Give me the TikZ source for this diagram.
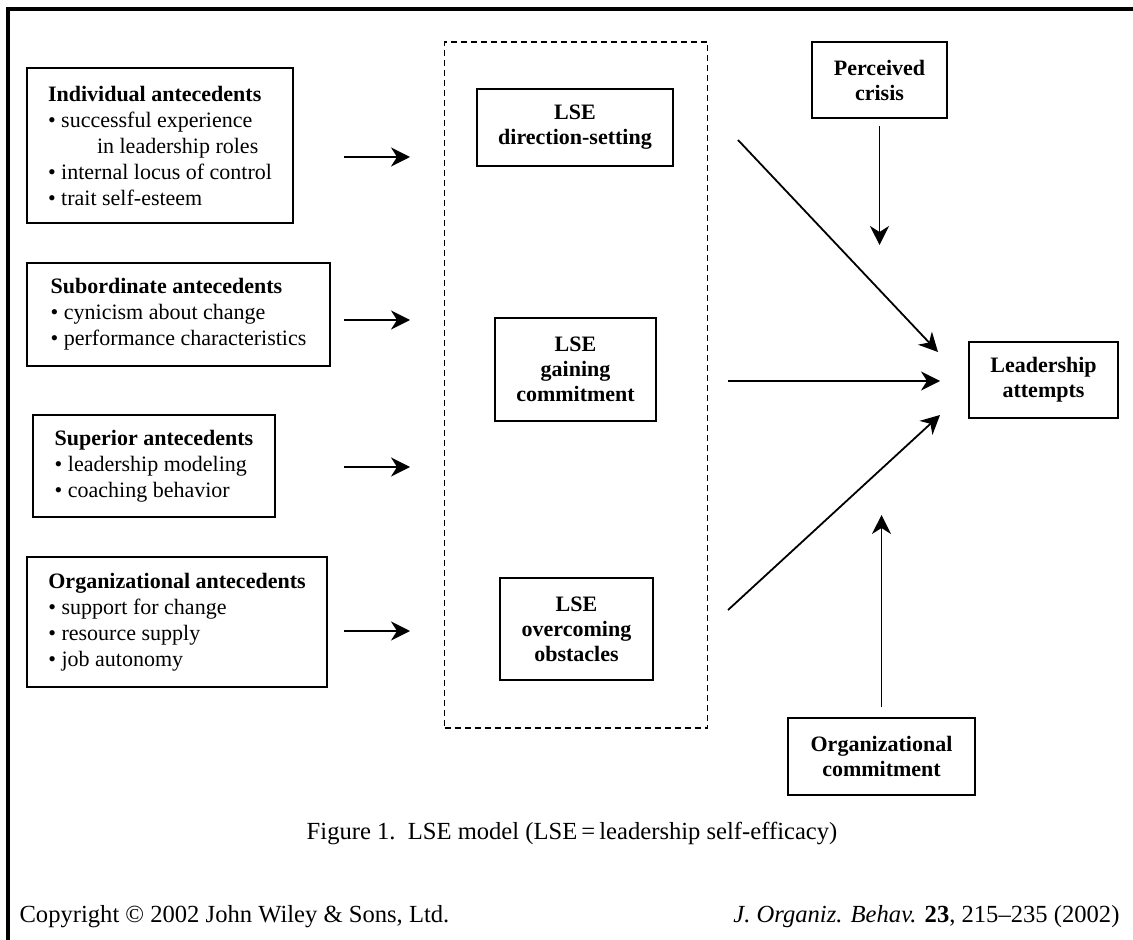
\documentclass[tikz,border=0pt]{standalone}
\usepackage{fontspec}
\setmainfont{Liberation Serif}
\usetikzlibrary{arrows.meta}

\begin{document}
\begin{tikzpicture}[x=0.5pt, y=-0.5pt, line width=0.9pt, >={Stealth[length=9.5pt,width=9.5pt,inset=3pt]},
  ante/.style={draw, shape=rectangle, align=left, inner sep=0pt, font=\fontsize{11}{13}\selectfont},
  lse/.style={draw, shape=rectangle, align=center, inner sep=0pt, font=\fontsize{11}{12.5}\selectfont\bfseries},
  foot/.style={font=\fontsize{12.3}{14}\selectfont}] %pixel coordinates, y grows downwards
\useasboundingbox (0,0) rectangle (1133,940);
\draw[line width=1.6pt] (8,940) -- (8,9) -- (1133,9);

\node[ante, minimum width=133pt, minimum height=77.5pt] (ind) at (160,145.5) {\textbf{Individual antecedents}\\ \textbullet\ successful experience\\ \hspace*{24.5pt}in leadership roles\\ \textbullet\ internal locus of control\\ \textbullet\ trait self-esteem};
\node[ante, minimum width=151.5pt, minimum height=51.5pt] (sub) at (178.5,314.5) {\textbf{Subordinate antecedents}\\ \textbullet\ cynicism about change\\ \textbullet\ performance characteristics};
\node[ante, minimum width=121pt, minimum height=51pt] (sup) at (154,466) {\textbf{Superior antecedents}\\ \textbullet\ leadership modeling\\ \textbullet\ coaching behavior};
\node[ante, minimum width=150pt, minimum height=65pt] (org) at (177,622) {\textbf{Organizational antecedents}\\ \textbullet\ support for change\\ \textbullet\ resource supply\\ \textbullet\ job autonomy};

\node[draw, dash pattern=on 3pt off 2pt, line width=0.7pt, inner sep=0pt, minimum width=131.5pt, minimum height=343pt] (lse) at (576,385) {};
\node[lse, minimum width=98pt, minimum height=38.5pt] (dir) at (575,127.5) {LSE\\direction-setting};
\node[lse, minimum width=80.5pt, minimum height=51.5pt] (gain) at (575.5,369.5) {LSE\\gaining\\commitment};
\node[lse, minimum width=76.5pt, minimum height=51pt] (over) at (576.5,629) {LSE\\overcoming\\obstacles};

\node[lse, minimum width=67.5pt, minimum height=38pt] (crisis) at (879.5,80) {Perceived\\crisis};
\node[lse, minimum width=74.5pt, minimum height=38pt] (att) at (1043.5,380) {Leadership\\attempts};
\node[lse, minimum width=93.5pt, minimum height=38.5pt] (ocom) at (881.5,756.5) {Organizational\\commitment};

\foreach \n/\y in {1/157, 2/320, 3/467, 4/631} {
  \coordinate (s\n) at (344,\y);
  \coordinate (e\n) at (410,\y);
}
\coordinate (d1) at (738,140);
\coordinate (d2) at (728,381);
\coordinate (d3) at (728,610);
\coordinate (a1) at (938,352);
\coordinate (a2) at (940,381);
\coordinate (a3) at (940,415);
\coordinate (c1) at (879.5,245);
\coordinate (c2) at (881.5,515);

\foreach \from/\to in {s1/e1, s2/e2, s3/e3, s4/e4, d1/a1, d2/a2, d3/a3}
\draw [->] (\from) -- (\to);
\draw [->, shorten <=3.5pt] (crisis) -- (c1);
\draw [->, shorten <=5pt] (ocom) -- (c2);

\node[foot] (cap) at (572,833) {Figure 1.\ \ LSE model (LSE\,=\,leadership self-efficacy)};
\node[foot, anchor=west] (copy) at (12,917) {Copyright \textcopyright\ 2002 John Wiley \& Sons, Ltd.};
\node[foot, anchor=east] (jour) at (1127,917) {\textit{J. Organiz. Behav.} \textbf{23}, 215--235 (2002)};
\end{tikzpicture}
\end{document}
